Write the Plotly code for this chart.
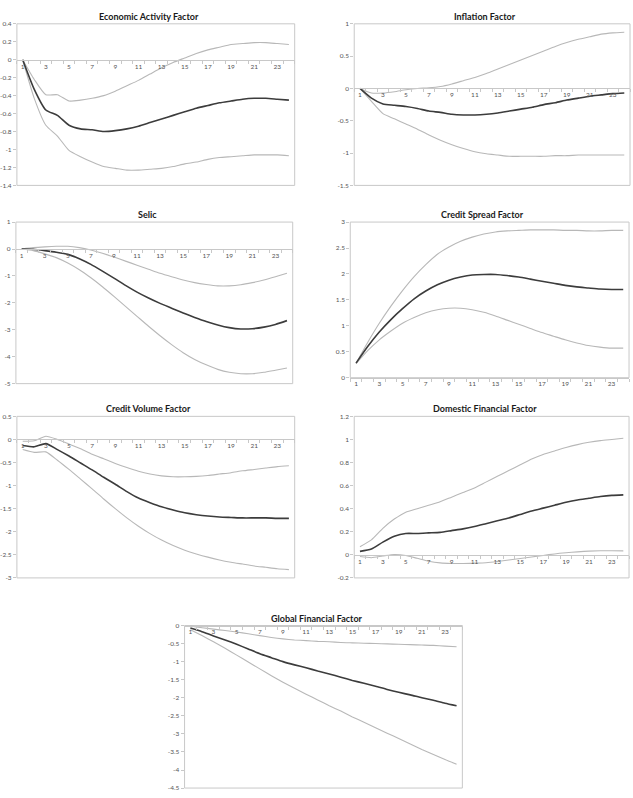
import plotly.graph_objects as go

periods = list(range(1, 25))
x_tick_labels = [str(v) for v in range(1, 24, 2)]

titles = ["Economic Activity Factor", "Inflation Factor", "Selic", "Credit Spread Factor",
          "Credit Volume Factor", "Domestic Financial Factor", "Global Financial Factor"]

econ_mid = [0, -0.33, -0.56, -0.62, -0.73, -0.77, -0.78, -0.80, -0.79, -0.77, -0.74, -0.70,
            -0.66, -0.62, -0.58, -0.54, -0.51, -0.48, -0.46, -0.44, -0.43, -0.43, -0.44, -0.45]
econ_up = [0, -0.22, -0.39, -0.39, -0.46, -0.45, -0.43, -0.40, -0.35, -0.29, -0.23, -0.16,
           -0.09, -0.03, 0.02, 0.07, 0.11, 0.14, 0.17, 0.18, 0.19, 0.19, 0.18, 0.17]
econ_lo = [0, -0.43, -0.73, -0.85, -1.01, -1.08, -1.14, -1.19, -1.21, -1.23, -1.23, -1.22,
           -1.21, -1.19, -1.16, -1.14, -1.11, -1.09, -1.08, -1.07, -1.06, -1.06, -1.06, -1.07]

infl_mid = [0, -0.15, -0.24, -0.26, -0.28, -0.31, -0.35, -0.37, -0.40, -0.41, -0.41, -0.40,
            -0.38, -0.35, -0.32, -0.29, -0.25, -0.22, -0.18, -0.15, -0.12, -0.10, -0.08, -0.07]
infl_up = [0, -0.07, -0.07, -0.05, -0.02, 0.0, 0.01, 0.03, 0.07, 0.12, 0.17, 0.23,
           0.30, 0.37, 0.44, 0.51, 0.58, 0.65, 0.71, 0.76, 0.80, 0.84, 0.86, 0.87]
infl_lo = [0, -0.20, -0.39, -0.47, -0.55, -0.63, -0.72, -0.80, -0.87, -0.93, -0.98, -1.01,
           -1.03, -1.05, -1.05, -1.05, -1.05, -1.04, -1.04, -1.03, -1.03, -1.03, -1.03, -1.03]

selic_mid = [0, -0.01, -0.06, -0.12, -0.20, -0.36, -0.57, -0.82, -1.08, -1.35, -1.60, -1.82,
             -2.02, -2.20, -2.38, -2.54, -2.69, -2.82, -2.92, -2.97, -2.96, -2.90, -2.80, -2.66]
selic_up = [0, 0.05, 0.08, 0.10, 0.10, 0.05, -0.04, -0.16, -0.30, -0.45, -0.60, -0.75,
            -0.90, -1.03, -1.15, -1.25, -1.32, -1.37, -1.37, -1.33, -1.25, -1.15, -1.03, -0.90]
selic_lo = [0, -0.06, -0.18, -0.32, -0.52, -0.77, -1.07, -1.40, -1.76, -2.13, -2.50, -2.87,
            -3.22, -3.55, -3.85, -4.10, -4.30, -4.47, -4.58, -4.63, -4.63, -4.58, -4.50, -4.42]

spread_mid = [0.28, 0.60, 0.88, 1.12, 1.33, 1.52, 1.67, 1.79, 1.88, 1.94, 1.98, 1.99,
              1.99, 1.97, 1.94, 1.90, 1.86, 1.82, 1.78, 1.75, 1.73, 1.71, 1.70, 1.70]
spread_up = [0.28, 0.68, 1.05, 1.38, 1.68, 1.95, 2.18, 2.38, 2.52, 2.63, 2.71, 2.77,
             2.81, 2.83, 2.84, 2.85, 2.85, 2.85, 2.84, 2.84, 2.83, 2.83, 2.84, 2.84]
spread_lo = [0.27, 0.52, 0.73, 0.90, 1.05, 1.16, 1.25, 1.31, 1.34, 1.34, 1.31, 1.26,
             1.19, 1.11, 1.03, 0.95, 0.87, 0.80, 0.73, 0.67, 0.62, 0.59, 0.57, 0.57]

volume_mid = [-0.13, -0.16, -0.09, -0.22, -0.36, -0.51, -0.66, -0.82, -0.97, -1.13, -1.27, -1.37,
              -1.46, -1.53, -1.59, -1.63, -1.66, -1.68, -1.69, -1.70, -1.70, -1.70, -1.71, -1.71]
volume_up = [-0.04, -0.03, 0.07, 0.00, -0.10, -0.20, -0.32, -0.42, -0.52, -0.61, -0.69, -0.75,
             -0.79, -0.81, -0.81, -0.80, -0.78, -0.75, -0.72, -0.68, -0.65, -0.62, -0.59, -0.57]
volume_lo = [-0.22, -0.28, -0.27, -0.45, -0.65, -0.86, -1.07, -1.29, -1.50, -1.70, -1.88, -2.04,
             -2.18, -2.30, -2.40, -2.48, -2.55, -2.61, -2.66, -2.70, -2.74, -2.77, -2.80, -2.82]

domfin_mid = [0.03, 0.05, 0.11, 0.16, 0.185, 0.185, 0.19, 0.195, 0.21, 0.225, 0.245, 0.27,
              0.295, 0.32, 0.35, 0.38, 0.405, 0.43, 0.455, 0.475, 0.49, 0.505, 0.515, 0.52]
domfin_up = [0.07, 0.13, 0.23, 0.31, 0.37, 0.40, 0.43, 0.46, 0.50, 0.54, 0.58, 0.63,
             0.68, 0.73, 0.78, 0.83, 0.87, 0.90, 0.93, 0.955, 0.975, 0.99, 1.00, 1.01]
domfin_lo = [-0.015, -0.025, -0.01, 0.003, -0.005, -0.03, -0.055, -0.07, -0.075, -0.075, -0.072, -0.068,
             -0.058, -0.045, -0.032, -0.018, -0.005, 0.008, 0.018, 0.026, 0.032, 0.035, 0.035, 0.034]

glob_mid = [-0.07, -0.17, -0.29, -0.40, -0.52, -0.65, -0.78, -0.89, -1.00, -1.09, -1.17, -1.26,
            -1.34, -1.43, -1.52, -1.60, -1.68, -1.77, -1.85, -1.92, -2.00, -2.07, -2.15, -2.22]
glob_up = [-0.01, -0.06, -0.10, -0.14, -0.18, -0.23, -0.28, -0.33, -0.37, -0.40, -0.42, -0.44,
           -0.45, -0.47, -0.48, -0.49, -0.50, -0.51, -0.52, -0.53, -0.54, -0.55, -0.57, -0.59]
glob_lo = [-0.12, -0.28, -0.45, -0.63, -0.82, -1.01, -1.20, -1.39, -1.57, -1.74, -1.90, -2.06,
           -2.22, -2.37, -2.53, -2.68, -2.83, -2.98, -3.13, -3.28, -3.43, -3.57, -3.71, -3.84]

y_ranges = [(-1.4, 0.4), (-1.5, 1.0), (-5, 1), (0, 3), (-3, 0.5), (-0.2, 1.2), (-4.5, 0)]
y_steps = [0.2, 0.5, 1, 0.5, 0.5, 0.2, 0.5]

series = [(econ_mid, econ_up, econ_lo), (infl_mid, infl_up, infl_lo),
          (selic_mid, selic_up, selic_lo), (spread_mid, spread_up, spread_lo),
          (volume_mid, volume_up, volume_lo), (domfin_mid, domfin_up, domfin_lo),
          (glob_mid, glob_up, glob_lo)]

W, H = 633, 798
# plot-area boxes in pixels: x0, x1, y0(top), y1(bottom)
boxes = [(12, 292, 20, 183), (352, 630, 20, 183),
         (11, 290, 220, 383), (348, 629, 220, 377),
         (12, 292, 416, 579), (352, 629, 416, 579),
         (181, 461, 627, 791)]
title_y = [13, 13, 212, 212, 408, 408, 620]

fig = go.Figure()
layout = dict(width=W, height=H, margin=dict(l=0, r=0, t=0, b=0),
              paper_bgcolor="white", plot_bgcolor="white", showlegend=False,
              font=dict(family="Lato, Liberation Sans, sans-serif", color="#555555"))
shapes, annotations = [], []

for i, ((mid, up, lo), (x0, x1, y0, y1), (ymin, ymax), step) in enumerate(
        zip(series, boxes, y_ranges, y_steps)):
    n = "" if i == 0 else str(i + 1)
    xa, ya = "x" + n, "y" + n
    for vals, col, wd in ((up, "#b8b8b8", 1.1), (lo, "#b8b8b8", 1.1), (mid, "#3c3c3c", 1.6)):
        fig.add_trace(go.Scatter(x=periods, y=vals, mode="lines", xaxis=xa, yaxis=ya,
                                 line=dict(color=col, width=wd, shape="spline", smoothing=0.6),
                                 hoverinfo="skip"))
    dom_x = [x0 / W, x1 / W]
    dom_y = [1 - y1 / H, 1 - y0 / H]
    cross = max(ymin, 0) if ymin < 0 <= ymax else ymin
    frac = (cross - ymin) / (ymax - ymin)
    pos = dom_y[0] + frac * (dom_y[1] - dom_y[0])
    nticks = int(round((ymax - ymin) / step))
    yt = [round(ymin + k * step, 4) for k in range(nticks + 1)]
    ytxt = [("%g" % v) for v in yt]
    layout["xaxis" + n] = dict(domain=dom_x, range=[0.5, 24.5], anchor="free", position=pos,
                               tickvals=list(range(1, 24, 2)), ticktext=x_tick_labels,
                               showline=True, linecolor="#c8c8c8", linewidth=1,
                               ticks="", showgrid=False, zeroline=False,
                               tickfont=dict(size=6.5, color="#555555"),
                               minor=dict(ticks="outside", ticklen=3, tick0=0.5, dtick=1,
                                          tickcolor="#c8c8c8", showgrid=False),
                               fixedrange=True)
    layout["yaxis" + n] = dict(domain=dom_y, range=[ymin, ymax], anchor=xa,
                               tickvals=yt, ticktext=ytxt, showline=False,
                               ticks="outside", ticklen=3, tickcolor="#c8c8c8",
                               showgrid=False, zeroline=False,
                               tickfont=dict(size=6.5, color="#555555"), fixedrange=True)
    shapes.append(dict(type="rect", xref="paper", yref="paper",
                       x0=dom_x[0], x1=dom_x[1], y0=dom_y[0], y1=dom_y[1],
                       line=dict(color="#c8c8c8", width=1), fillcolor="rgba(0,0,0,0)",
                       layer="below"))
    annotations.append(dict(text="<b>%s</b>" % titles[i], xref="paper", yref="paper",
                            x=((x0 + x1) / 2 - 7) / W, y=1 - title_y[i] / H,
                            xanchor="center", yanchor="middle", showarrow=False,
                            font=dict(size=9, color="#1a1a1a",
                                      family="Lato, Liberation Sans, sans-serif")))

layout["shapes"] = shapes
layout["annotations"] = annotations
fig.update_layout(**layout)
fig.write_html("out.html")
